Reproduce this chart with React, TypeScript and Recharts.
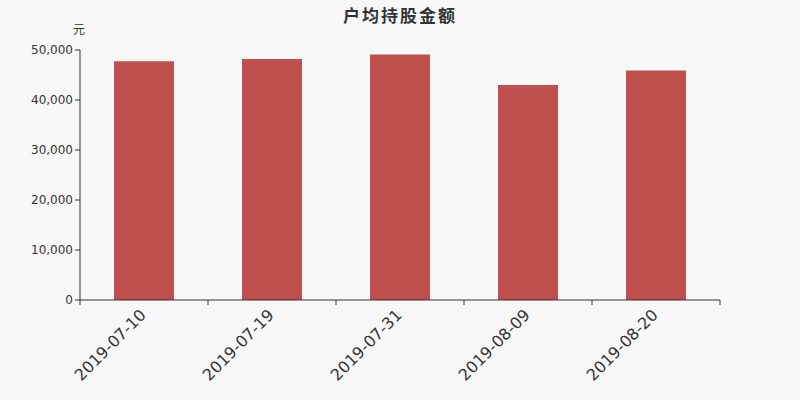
import { BarChart, Bar, XAxis, YAxis } from "recharts";

const dates = ["2019-07-10", "2019-07-19", "2019-07-31", "2019-08-09", "2019-08-20"];
const amounts = [47740, 48180, 49120, 42980, 45900];
const yTicks = [0, 10000, 20000, 30000, 40000, 50000];

const data = dates.map((d, i) => ({ date: d, amount: amounts[i] }));

const PLOT_LEFT = 80;
const PLOT_WIDTH = 640;
const band = PLOT_WIDTH / dates.length;

function DateTick(props: any) {
  const { x, y, payload, index } = props;
  const axisY = y - 8;
  return (
    <g>
      <line x1={x - band / 2} y1={axisY} x2={x - band / 2} y2={axisY + 5} stroke="#333" />
      {index === dates.length - 1 && (
        <line x1={x + band / 2} y1={axisY} x2={x + band / 2} y2={axisY + 5} stroke="#333" />
      )}
      <text
        x={x + 3}
        y={axisY + 16}
        textAnchor="end"
        fontSize={16}
        fill="#333"
        transform={`rotate(-45, ${x + 3}, ${axisY + 16})`}
      >
        {payload.value}
      </text>
    </g>
  );
}

export default function App() {
  return (
    <div style={{ position: "fixed", left: 0, top: 0, width: 800, height: 400, background: "#f8f8f8", fontFamily: "'DejaVu Sans', sans-serif" }}>
      <div style={{ position: "absolute", top: 2, width: 800, textAlign: "center", fontSize: 17, fontWeight: "bold", color: "#333", fontFamily: "'Noto Sans CJK SC', sans-serif", letterSpacing: 2 }}>
        户均持股金额
      </div>
      <div style={{ position: "absolute", left: 73, top: 20, fontSize: 12, color: "#333", fontFamily: "'Noto Sans CJK SC', sans-serif" }}>
        元
      </div>
      <BarChart
        width={800}
        height={400}
        data={data}
        margin={{ top: 50, right: 80, left: 0, bottom: 40 }}
        style={{ position: "absolute", left: 0, top: 0 }}
      >
        <XAxis
          dataKey="date"
          interval={0}
          height={60}
          tickLine={false}
          axisLine={{ stroke: "#333" }}
          tick={<DateTick />}
        />
        <YAxis
          width={PLOT_LEFT}
          domain={[0, 50000]}
          ticks={yTicks}
          interval={0}
          tickSize={5}
          tickLine={{ stroke: "#333" }}
          axisLine={{ stroke: "#333" }}
          tick={{ fill: "#333", fontSize: 12 }}
          tickFormatter={(v: number) => v.toLocaleString("en-US")}
        />
        <Bar dataKey="amount" fill="#c0504d" barSize={60} isAnimationActive={false} />
      </BarChart>
    </div>
  );
}
